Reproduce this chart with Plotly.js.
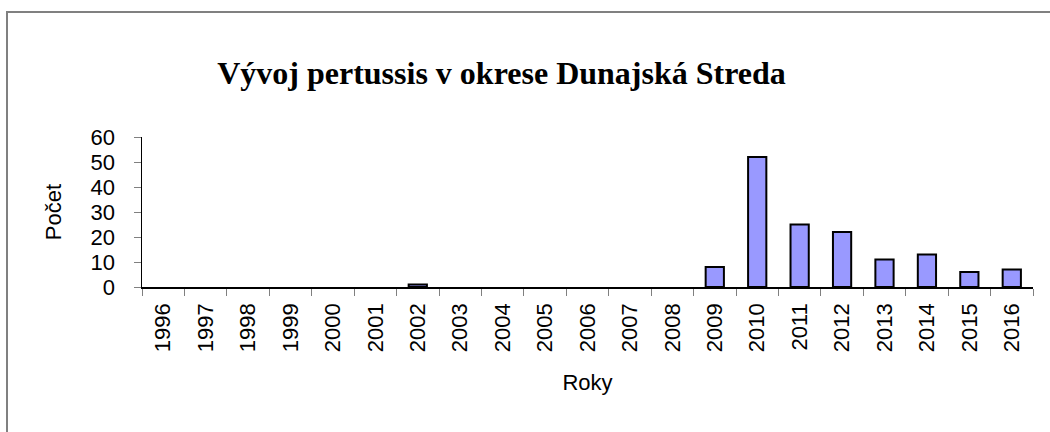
<!DOCTYPE html>
<html>
<head>
<meta charset="utf-8">
<script src="https://cdn.plot.ly/plotly-3.0.1.min.js"></script>
<style>
html,body{margin:0;padding:0;background:#fff;overflow:hidden;}
#wrap{position:relative;width:1050px;height:432px;}
#frame{position:absolute;left:6px;top:11px;width:1100px;height:500px;border-left:2px solid #808080;border-top:2px solid #808080;pointer-events:none;}
#chart{position:absolute;left:0;top:0;width:1050px;height:432px;}
</style>
</head>
<body>
<div id="wrap">
<div id="chart"></div>
<div id="frame"></div>
</div>
<script>
const years = ["1996","1997","1998","1999","2000","2001","2002","2003","2004","2005","2006","2007","2008","2009","2010","2011","2012","2013","2014","2015","2016"];
const counts = [0,0,0,0,0,0,1,0,0,0,0,0,0,8,52,25,22,11,13,6,7];
const titleText = "Vývoj pertussis v okrese Dunajská Streda";
const xTitle = "Roky";
const yTitle = "Počet";

const trace = {
  type: "bar",
  x: years,
  y: counts,
  width: 0.43,
  marker: {color: "#9999FF", line: {color: "#000000", width: counts.map(v => v > 0 ? 2 : 0)}},
  hoverinfo: "x+y"
};

const layout = {
  width: 1050, height: 432,
  margin: {l: 142, r: 17, t: 137, b: 145},
  paper_bgcolor: "rgba(0,0,0,0)",
  plot_bgcolor: "#ffffff",
  showlegend: false,
  title: {
    text: "<b>" + titleText + "</b>",
    font: {family: "Liberation Serif, Times New Roman, serif", size: 32, color: "#000"},
    x: 501.5 / 1050, xanchor: "center", xref: "container",
    y: 1 - 73 / 432, yref: "container", yanchor: "middle"
  },
  font: {family: "Liberation Sans, Arial, sans-serif", color: "#000"},
  xaxis: {
    type: "category",
    tickangle: -90,
    tickfont: {size: 22, color: "#000"},
    ticks: "outside", ticklen: 7, tickcolor: "#808080", tickwidth: 1,
    tickson: "boundaries",
    ticklabelstandoff: 6,
    showline: true, linecolor: "#000", linewidth: 1.5,
    showgrid: false, zeroline: false,
    title: {text: xTitle, font: {size: 22, color: "#000"}, standoff: 23}
  },
  yaxis: {
    range: [0, 60],
    dtick: 10,
    tickfont: {size: 22, color: "#000"},
    ticks: "outside", ticklen: 7, tickcolor: "#808080", tickwidth: 1,
    ticklabelstandoff: 14,
    showline: true, linecolor: "#000", linewidth: 1.5,
    showgrid: false, zeroline: false,
    title: {text: yTitle, font: {size: 22, color: "#000"}, standoff: 23}
  }
};

Plotly.newPlot("chart", [trace], layout, {displayModeBar: false, staticPlot: true});
</script>
</body>
</html>
